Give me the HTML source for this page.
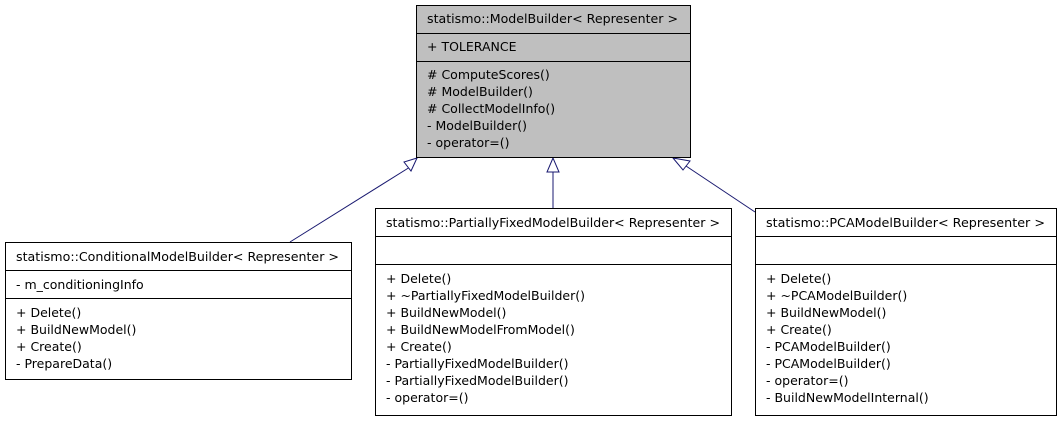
<!DOCTYPE html>
<html><head><meta charset="utf-8"><style>
html,body{margin:0;padding:0;background:#fff;}
svg text{font-family:"DejaVu Sans","Liberation Sans",sans-serif;font-size:12.5px;fill:#000;}
</style></head><body>
<svg width="1061" height="421" xmlns="http://www.w3.org/2000/svg">
<g stroke="#191970" stroke-width="1" fill="none">
<line x1="290" y1="242" x2="410" y2="167"/>
<line x1="553" y1="208" x2="553" y2="171"/>
<line x1="755" y1="212" x2="686" y2="166"/>
</g>
<g stroke="#191970" stroke-width="1" fill="#fff">
<polygon points="417,158 404,162 411,171"/>
<polygon points="553,158 547,172 559,172"/>
<polygon points="673,158 683,170 690,161"/>
</g>
<rect x="416.5" y="5.5" width="274" height="152" fill="#bfbfbf" stroke="#000"/>
<line x1="416" y1="33.5" x2="691" y2="33.5" stroke="#000"/>
<line x1="416" y1="61.5" x2="691" y2="61.5" stroke="#000"/>
<text x="427" y="23" textLength="251" lengthAdjust="spacingAndGlyphs">statismo::ModelBuilder&lt; Representer &gt;</text>
<text x="427" y="51">+ TOLERANCE</text>
<text x="427" y="79">#&#160;ComputeScores()</text>
<text x="427" y="96">#&#160;ModelBuilder()</text>
<text x="427" y="113">#&#160;CollectModelInfo()</text>
<text x="427" y="130">- ModelBuilder()</text>
<text x="427" y="147">- operator=()</text>
<rect x="5.5" y="242.5" width="346" height="137" fill="#fff" stroke="#000"/>
<line x1="5" y1="270.5" x2="352" y2="270.5" stroke="#000"/>
<line x1="5" y1="298.5" x2="352" y2="298.5" stroke="#000"/>
<text x="16" y="261" textLength="323" lengthAdjust="spacingAndGlyphs">statismo::ConditionalModelBuilder&lt; Representer &gt;</text>
<text x="16" y="289">- m_conditioningInfo</text>
<text x="16" y="317">+ Delete()</text>
<text x="16" y="334">+ BuildNewModel()</text>
<text x="16" y="351">+ Create()</text>
<text x="16" y="368">- PrepareData()</text>
<rect x="375.5" y="208.5" width="356" height="207" fill="#fff" stroke="#000"/>
<line x1="375" y1="236.5" x2="732" y2="236.5" stroke="#000"/>
<line x1="375" y1="264.5" x2="732" y2="264.5" stroke="#000"/>
<text x="386" y="227" textLength="334" lengthAdjust="spacingAndGlyphs">statismo::PartiallyFixedModelBuilder&lt; Representer &gt;</text>
<text x="386" y="283">+ Delete()</text>
<text x="386" y="300">+ ~PartiallyFixedModelBuilder()</text>
<text x="386" y="317">+ BuildNewModel()</text>
<text x="386" y="334">+ BuildNewModelFromModel()</text>
<text x="386" y="351">+ Create()</text>
<text x="386" y="368">- PartiallyFixedModelBuilder()</text>
<text x="386" y="385">- PartiallyFixedModelBuilder()</text>
<text x="386" y="402">- operator=()</text>
<rect x="755.5" y="208.5" width="301" height="207" fill="#fff" stroke="#000"/>
<line x1="755" y1="236.5" x2="1057" y2="236.5" stroke="#000"/>
<line x1="755" y1="264.5" x2="1057" y2="264.5" stroke="#000"/>
<text x="766" y="227" textLength="279" lengthAdjust="spacingAndGlyphs">statismo::PCAModelBuilder&lt; Representer &gt;</text>
<text x="766" y="283">+ Delete()</text>
<text x="766" y="300">+ ~PCAModelBuilder()</text>
<text x="766" y="317">+ BuildNewModel()</text>
<text x="766" y="334">+ Create()</text>
<text x="766" y="351">- PCAModelBuilder()</text>
<text x="766" y="368">- PCAModelBuilder()</text>
<text x="766" y="385">- operator=()</text>
<text x="766" y="402">- BuildNewModelInternal()</text>
</svg>
</body></html>
